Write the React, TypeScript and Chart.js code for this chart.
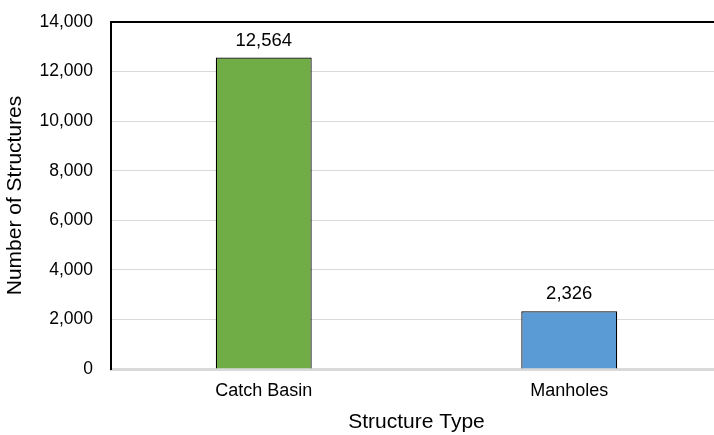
import React, { useEffect, useRef } from "react";
import { Chart, registerables } from "chart.js";

Chart.register(...registerables);

const categories = ["Catch Basin", "Manholes"];
const values = [12564, 2326];
const barColors = ["#70AD47", "#5B9BD5"];
const yTicks = [0, 2000, 4000, 6000, 8000, 10000, 12000, 14000];

const FONT = "'Liberation Sans', Arial, sans-serif";

const framePlugin = {
  id: "frame",
  afterDatasetsDraw(chart: any) {
    const { ctx, chartArea } = chart;
    ctx.save();
    ctx.font = `18.5px ${FONT}`;
    ctx.fillStyle = "#000";
    ctx.textAlign = "center";
    ctx.textBaseline = "alphabetic";
    const meta = chart.getDatasetMeta(0);
    meta.data.forEach((bar: any, i: number) => {
      ctx.fillText(values[i].toLocaleString("en-US"), bar.x, bar.y - 12);
    });
    ctx.strokeStyle = "#000";
    ctx.lineWidth = 2;
    ctx.beginPath();
    ctx.moveTo(chartArea.left - 1, chartArea.top);
    ctx.lineTo(chartArea.right + 4, chartArea.top);
    ctx.stroke();
    ctx.restore();
  },
};

export default function App() {
  const ref = useRef<HTMLCanvasElement | null>(null);
  useEffect(() => {
    if (!ref.current) return;
    const chart = new Chart(ref.current, {
      type: "bar",
      data: {
        labels: categories,
        datasets: [
          {
            data: values,
            backgroundColor: barColors,
            borderColor: "#000",
            borderWidth: 1.2,
            barPercentage: 0.314,
            categoryPercentage: 1,
          },
        ],
      },
      options: {
        animation: false,
        responsive: false,
        maintainAspectRatio: false,
        layout: { padding: { top: 22, right: 2, left: 0, bottom: 0 } },
        plugins: {
          legend: { display: false },
          tooltip: { enabled: false },
        },
        scales: {
          x: {
            grid: { display: false, drawTicks: false },
            border: { color: "#D9D9D9", width: 3 },
            ticks: { color: "#000", font: { family: FONT, size: 18 }, padding: 11 },
            title: {
              display: true,
              text: "Structure Type",
              color: "#000",
              font: { family: FONT, size: 21 },
              padding: { top: 4, bottom: 0 },
            },
            afterFit(scale: any) {
              scale.height = 66;
              scale.paddingLeft = 0;
              scale.paddingRight = 0;
            },
          },
          y: {
            min: 0,
            max: 14000,
            afterBuildTicks(scale: any) {
              scale.ticks = yTicks.map((v) => ({ value: v }));
            },
            grid: { color: "#D9D9D9", lineWidth: 1, drawTicks: false },
            border: { color: "#000", width: 2 },
            ticks: {
              color: "#000",
              font: { family: FONT, size: 17.5 },
              padding: 18,
              callback: (v: any) => Number(v).toLocaleString("en-US"),
            },
            title: {
              display: true,
              text: "Number of Structures",
              color: "#000",
              font: { family: FONT, size: 21 },
              padding: { top: 3, bottom: 3 },
            },
            afterFit(scale: any) {
              scale.width = 111;
              scale.paddingTop = 0;
              scale.paddingBottom = 0;
            },
          },
        },
      },
      plugins: [framePlugin],
    });
    return () => chart.destroy();
  }, []);
  return (
    <div
      style={{
        position: "fixed",
        left: 0,
        top: 0,
        width: 714,
        height: 435,
        overflow: "hidden",
        background: "#fff",
      }}
    >
      <canvas ref={ref} width={724} height={435} style={{ width: 724, height: 435, display: "block" }} />
    </div>
  );
}
